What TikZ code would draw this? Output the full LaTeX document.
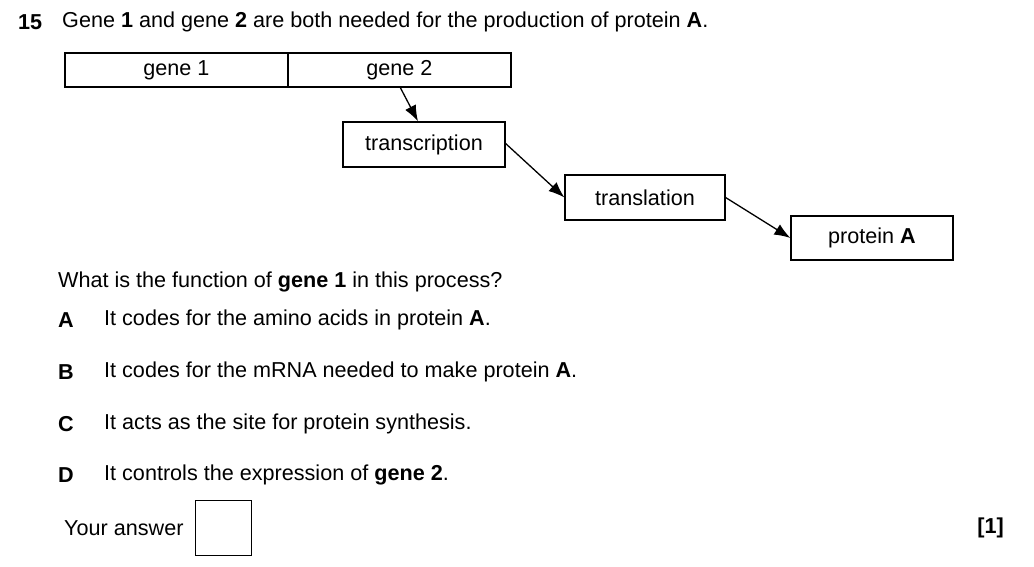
\documentclass[tikz,border=0pt]{standalone}
\usepackage{fontspec}
\setmainfont{Liberation Sans}
\usetikzlibrary{arrows.meta}
\begin{document}
\begin{tikzpicture}[x=1pt,y=-1pt,
  box/.style={draw,line width=1.2pt,inner sep=0pt,minimum height=34pt},
  t/.style={anchor=west,inner sep=0pt},
  arr/.style={line width=1.3pt,-{Latex[length=16pt,width=12pt]}}]
\useasboundingbox (0,0) rectangle (1034,567);
\tikzset{every node/.append style={font=\fontsize{21.6}{26}\selectfont}}
\node[t] (n15) at (18,22) {\textbf{15}};
\node[t] (q) at (62,22) {Gene \textbf{1} and gene \textbf{2} are both needed for the production of protein \textbf{A}.};
\node[box,minimum width=223pt,minimum height=34pt] (g1) at (176.5,70) {gene 1};
\node[box,minimum width=223pt,minimum height=34pt] (g2) at (399.5,70) {gene 2};
\node[box,minimum width=162pt,minimum height=45pt] (tc) at (424,144.5) {transcription};
\node[box,minimum width=160pt,minimum height=45pt] (tl) at (645,197.5) {translation};
\node[box,minimum width=162pt,minimum height=44pt] (pa) at (872,238) {protein \textbf{A}};
\coordinate (c1) at (400,87);
\draw[arr] (c1) -- (tc.north -| 418,0);
\draw[arr] (tc.east) ++(0,-1) -- (tl.west);
\draw[arr] (tl.east) -- (pa.west);
\node[t] (qq) at (58,282) {What is the function of \textbf{gene 1} in this process?};
\node[t] (la) at (58,320) {\textbf{A}}; \node[t] (ta) at (104,320) {It codes for the amino acids in protein \textbf{A}.};
\node[t] (lb) at (58,372) {\textbf{B}}; \node[t] (tb) at (104,372) {It codes for the mRNA needed to make protein \textbf{A}.};
\node[t] (lc) at (58,424) {\textbf{C}}; \node[t] (tcc) at (104,424) {It acts as the site for protein synthesis.};
\node[t] (ld) at (58,475) {\textbf{D}}; \node[t] (td) at (104,475) {It controls the expression of \textbf{gene 2}.};
\node[t] (ya) at (64,528) {Your answer};
\node[draw,line width=1pt,minimum width=56pt,minimum height=55pt,inner sep=0pt] (ab) at (223,527.5) {};
\node[anchor=east,inner sep=0pt] (mk) at (1004,528) {\textbf{[1]}};
\end{tikzpicture}
\end{document}
